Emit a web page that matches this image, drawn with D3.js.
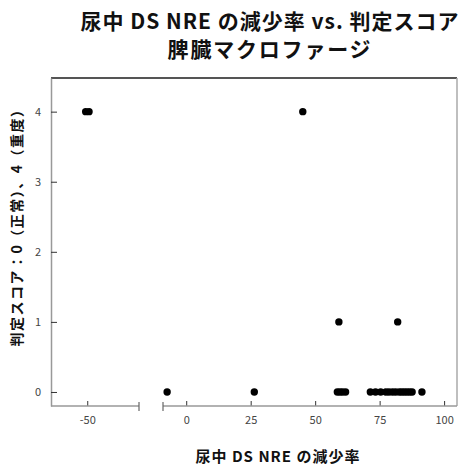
<!DOCTYPE html>
<html>
<head>
<meta charset="utf-8">
<script src="https://cdn.jsdelivr.net/npm/d3@7"></script>
<style>
  body { margin: 0; background: #fff; }
  text { font-family: "Noto Sans CJK JP", "Noto Sans", sans-serif; }
</style>
</head>
<body>
<svg id="chart" width="462" height="466"></svg>
<script>
// Scatter with a broken x-axis: urinary DS NRE reduction vs. spleen macrophage score.

const reduction = [
  -50.6, -49.3, 45.2,
  59.2, 82.0,
  -7.4, 26.4, 58.6, 59.6, 60.6, 61.8,
  71.4, 73.4, 75.4, 77.4, 78.6, 80.0, 81.2, 82.6, 83.6, 84.6, 85.6, 86.6, 87.6, 91.4
];
const score = [
  4, 4, 4,
  1, 1,
  0, 0, 0, 0, 0, 0,
  0, 0, 0, 0, 0, 0, 0, 0, 0, 0, 0, 0, 0, 0
];
const leftTicks = [-50];
const rightTicks = [0, 25, 50, 75, 100];
const yTicks = [0, 1, 2, 3, 4];

const svg = d3.select("#chart");

const plotLeft = 51, plotRight = 457, plotTop = 78, plotBottom = 406;
const breakLeft = 139, breakRight = 163;

const xLeft = d3.scaleLinear().domain([-64, -30]).range([plotLeft, breakLeft]);
const xRight = d3.scaleLinear().domain([-9, 105]).range([breakRight, plotRight]);
const x = v => v < -20 ? xLeft(v) : xRight(v);
const y = d3.scaleLinear().domain([-0.2, 4.48]).range([plotBottom, plotTop]);

const tickFont = "DejaVu Sans, sans-serif";

// titles
const title = svg.append("text")
  .attr("text-anchor", "middle")
  .attr("font-size", 21)
  .attr("font-weight", "bold")
  .attr("fill", "#111");
title.append("tspan").attr("x", 270).attr("y", 29)
  .attr("letter-spacing", 1)
  .text("尿中 DS NRE の減少率 vs. 判定スコア");
title.append("tspan").attr("x", 270).attr("y", 57)
  .attr("letter-spacing", 1.8)
  .text("脾臓マクロファージ");

// frame
svg.append("line")
  .attr("x1", plotLeft).attr("x2", plotRight)
  .attr("y1", plotTop).attr("y2", plotTop)
  .attr("stroke", "#555").attr("stroke-width", 2);
svg.append("line")
  .attr("x1", plotRight).attr("x2", plotRight)
  .attr("y1", plotTop).attr("y2", plotBottom)
  .attr("stroke", "#aaa").attr("stroke-width", 1.5);

// y axis
const yAxis = svg.append("g")
  .attr("transform", `translate(${plotLeft},0)`)
  .call(d3.axisLeft(y).tickValues(yTicks).tickFormat(d3.format("d"))
    .tickSize(-6).tickPadding(10).tickSizeOuter(0));
yAxis.select(".domain").attr("stroke", "#999").attr("stroke-width", 1.5);
yAxis.selectAll(".tick line").attr("stroke", "#333");
yAxis.selectAll(".tick text")
  .attr("font-family", tickFont)
  .attr("font-size", 11).attr("fill", "#444");

// x axis, two segments
function xSegment(scale, ticks, x0, x1) {
  const g = svg.append("g").attr("transform", `translate(0,${plotBottom})`);
  g.call(d3.axisBottom(scale).tickValues(ticks).tickFormat(d => String(d))
    .tickSize(-5).tickPadding(10).tickSizeOuter(0));
  g.select(".domain").remove();
  g.append("line")
    .attr("x1", x0).attr("x2", x1)
    .attr("stroke", "#999").attr("stroke-width", 1.5);
  g.selectAll(".tick line").attr("stroke", "#333");
  g.selectAll(".tick text")
    .attr("font-family", tickFont)
    .attr("font-size", 11).attr("fill", "#444");
  return g;
}
const gl = xSegment(xLeft, leftTicks, plotLeft, breakLeft);
gl.append("line").attr("x1", breakLeft).attr("x2", breakLeft)
  .attr("y1", -4).attr("y2", 5).attr("stroke", "#666").attr("stroke-width", 1.2);
const gr = xSegment(xRight, rightTicks, breakRight, plotRight);
gr.append("line").attr("x1", breakRight).attr("x2", breakRight)
  .attr("y1", -4).attr("y2", 5).attr("stroke", "#666").attr("stroke-width", 1.2);

// axis titles
svg.append("text")
  .attr("x", 278).attr("y", 462)
  .attr("text-anchor", "middle")
  .attr("font-size", 15).attr("font-weight", "bold").attr("fill", "#111")
  .attr("letter-spacing", 1)
  .text("尿中 DS NRE の減少率");

svg.append("text")
  .attr("transform", "translate(22,224) rotate(-90)")
  .attr("text-anchor", "middle")
  .attr("font-size", 14).attr("font-weight", "bold").attr("fill", "#111")
  .attr("letter-spacing", 1.5)
  .text("判定スコア：0（正常）、4（重度）");

// points
svg.append("g")
  .selectAll("circle")
  .data(reduction.map((r, i) => ({ r, s: score[i] })))
  .join("circle")
  .attr("cx", d => x(d.r))
  .attr("cy", d => y(d.s))
  .attr("r", 3.7)
  .attr("fill", "#000");
</script>
</body>
</html>
